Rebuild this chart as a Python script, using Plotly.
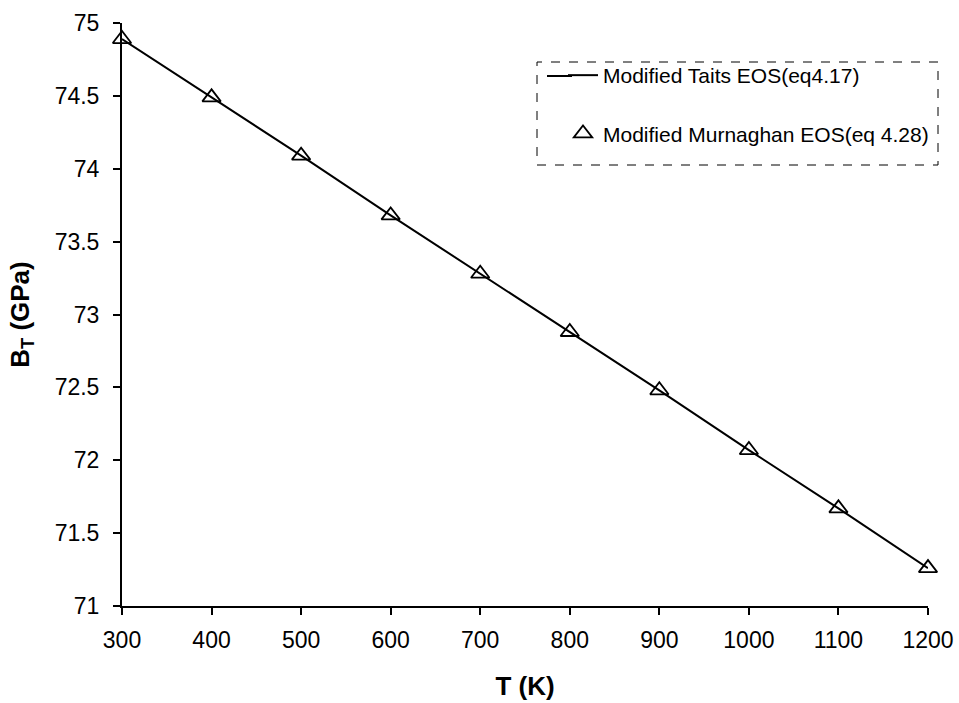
import plotly.graph_objects as go

T = [300, 400, 500, 600, 700, 800, 900, 1000, 1100, 1200]
B_tait = [74.89, 74.49, 74.09, 73.68, 73.28, 72.88, 72.48, 72.07, 71.67, 71.26]
B_murn = [74.89, 74.49, 74.09, 73.68, 73.28, 72.88, 72.48, 72.07, 71.67, 71.26]
x_ticks = [300, 400, 500, 600, 700, 800, 900, 1000, 1100, 1200]
y_ticks = [71, 71.5, 72, 72.5, 73, 73.5, 74, 74.5, 75]

fig = go.Figure()
fig.add_trace(go.Scatter(x=T, y=B_tait, mode="lines", name="Modified Taits EOS(eq4.17)",
                         line=dict(color="black", width=2), legendgroup="a"))
fig.add_trace(go.Scatter(x=T, y=B_murn, mode="markers", name="Modified Murnaghan EOS(eq 4.28)",
                         marker=dict(symbol="triangle-up-open", size=16, color="black",
                                     line=dict(width=1.8, color="black")), legendgroup="b"))

font = "Liberation Sans, Arial, sans-serif"
W, H = 959, 703
L, R, Tm, B = 122, 31, 23, 97
pw, ph = W - L - R, H - Tm - B

def px(x):
    return (x - L) / pw

def py(y):
    return (H - B - y) / ph

fig.update_layout(
    width=W, height=H,
    margin=dict(l=L, r=R, t=Tm, b=B),
    plot_bgcolor="white", paper_bgcolor="white",
    font=dict(family=font, color="black", size=22),
    showlegend=True,
    legend=dict(x=px(563), y=py(55), xanchor="left", yanchor="top",
                bgcolor="rgba(0,0,0,0)", font=dict(size=21, family=font),
                traceorder="grouped", tracegroupgap=28),
    xaxis=dict(range=[300, 1200], tickvals=x_ticks, showline=True, linecolor="black", linewidth=2,
               ticks="outside", ticklen=7, tickwidth=2, tickcolor="black", showgrid=False,
               zeroline=False, tickfont=dict(size=23), ticklabelstandoff=5, automargin=False,
               title=dict(text="<b>T (K)</b>", font=dict(size=26), standoff=25)),
    yaxis=dict(range=[71, 75], tickvals=y_ticks, showline=True, linecolor="black", linewidth=2,
               ticks="outside", ticklen=7, tickwidth=2, tickcolor="black", showgrid=False,
               zeroline=False, tickfont=dict(size=23), ticklabelstandoff=9, automargin=False,
               title=dict(text="<b>B<sub>T</sub> (GPa)</b>", font=dict(size=26), standoff=18)),
    shapes=[
        dict(type="rect", xref="paper", yref="paper", x0=px(537), x1=px(938), y0=py(165), y1=py(62),
             line=dict(color="black", width=1, dash="dash")),
        dict(type="line", xref="paper", yref="paper", x0=px(547), x1=px(572), y0=py(76), y1=py(76),
             line=dict(color="black", width=2)),
    ],
)
fig.update_traces(cliponaxis=False)
fig.write_html("out.html")
